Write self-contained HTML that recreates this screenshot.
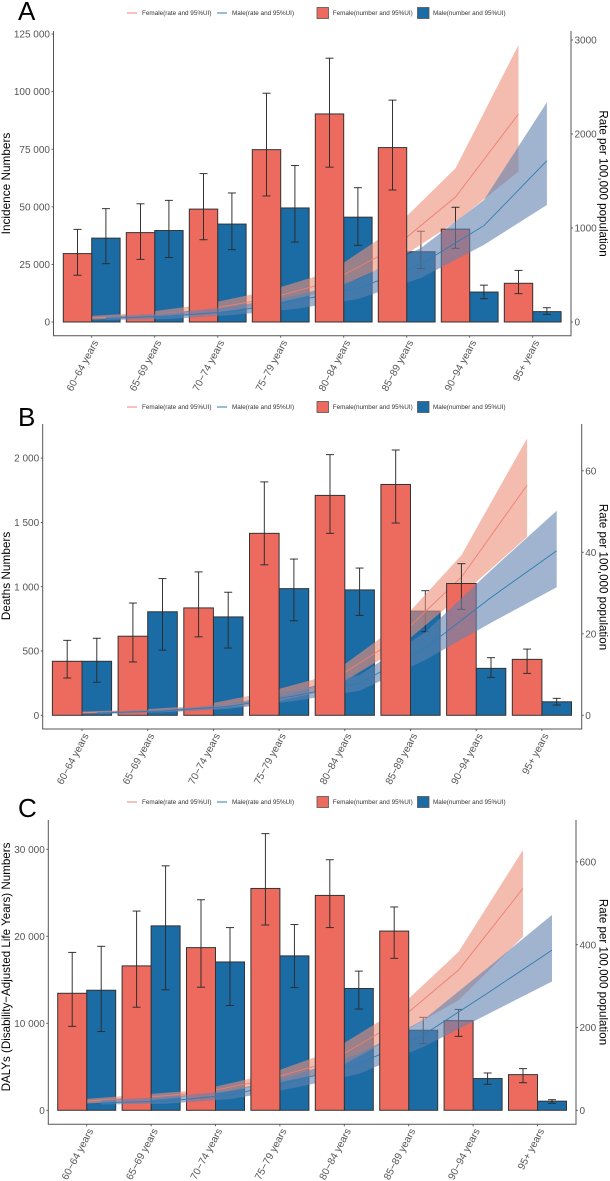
<!DOCTYPE html>
<html lang="en">
<head>
<meta charset="utf-8">
<title>Incidence, deaths and DALYs by age group and sex</title>
<style>
html,body{margin:0;padding:0;background:#fff;width:610px;height:1181px;overflow:hidden}
svg{display:block;filter:blur(0.3px);font-family:"Liberation Sans",Arial,sans-serif}
</style>
</head>
<body>
<svg id="figure" xmlns="http://www.w3.org/2000/svg" width="610" height="1181" viewBox="0 0 610 1181"></svg>
<script>
const categories = ["60−64 years","65−69 years","70−74 years","75−79 years","80−84 years","85−89 years","90−94 years","95+ years"];

/* Panel A: incidence */
const aLeftTicks = [0,25000,50000,75000,100000,125000];
const aRightTicks = [0,1000,2000,3000];
const aFemaleNumber = [29700,38800,49000,74800,90300,75700,40300,16800];
const aFemaleNumberLow = [20300,27200,35700,54700,67200,57300,32000,12300];
const aFemaleNumberHigh = [40200,51300,64400,99300,114500,96300,49800,22400];
const aMaleNumber = [36400,39700,42500,49500,45500,30500,13000,4500];
const aMaleNumberLow = [25300,28000,31400,34700,33300,23200,10100,3300];
const aMaleNumberHigh = [49200,52800,56000,67900,58300,39400,16000,6200];
const aFemaleRate = [37,64,128,245,425,777,1330,2213];
const aFemaleRateLow = [21,43,80,180,330,628,1064,1600];
const aFemaleRateHigh = [55,96,185,325,530,978,1635,2947];
const aMaleRate = [37,64,112,223,356,617,1024,1716];
const aMaleRateLow = [21,32,74,138,245,468,820,1245];
const aMaleRateHigh = [58,96,165,280,457,787,1298,2337];

/* Panel B: deaths */
const bLeftTicks = [0,500,1000,1500,2000];
const bRightTicks = [0,20,40,60];
const bFemaleNumber = [420,615,835,1415,1710,1795,1025,435];
const bFemaleNumberLow = [290,415,610,1170,1415,1495,824,326];
const bFemaleNumberHigh = [583,873,1115,1815,2027,2063,1179,515];
const bMaleNumber = [420,805,765,985,975,810,365,105];
const bMaleNumberLow = [257,507,523,735,777,650,295,80];
const bMaleNumberHigh = [599,1063,957,1215,1145,969,448,132];
const bFemaleRate = [0.56,0.93,1.55,3.75,8.2,18.5,33.9,56.5];
const bFemaleRateLow = [0.3,0.7,1.2,2.8,6.2,16,29.5,43.8];
const bFemaleRateHigh = [0.8,1.3,2.3,5.5,9.9,21.7,39.3,68];
const bMaleRate = [0.56,1.05,2.15,4.7,7.9,16.5,28.9,40.4];
const bMaleRateLow = [0.3,0.7,1.55,3.5,6,13.6,22.7,31.4];
const bMaleRateHigh = [0.8,1.4,2.7,6,9.9,20.4,35.6,50.2];

/* Panel C: DALYs */
const cLeftTicks = [0,10000,20000,30000];
const cRightTicks = [0,200,400,600];
const cFemaleNumber = [13450,16600,18700,25500,24700,20600,10300,4100];
const cFemaleNumberLow = [9650,11850,14150,21300,21000,17470,8500,3170];
const cFemaleNumberHigh = [18150,22900,24200,31800,28800,23370,11600,4790];
const cMaleNumber = [13800,21200,17050,17750,14000,9200,3650,1050];
const cMaleNumberLow = [9050,13850,12050,14100,11640,7660,2990,800];
const cMaleNumberHigh = [18850,28100,21000,21350,16000,10690,4290,1220];
const cFemaleRate = [20,30,42,73,117,208,339,536];
const cFemaleRateLow = [15,22,35,61,92,177,266,419];
const cFemaleRateHigh = [25,37,49,85,141,237,383,629];
const cMaleRate = [18,22,37,71,112,182,283,387];
const cMaleRateLow = [14,16,27,54,88,153,232,311];
const cMaleRateHigh = [25,32,47,85,136,218,344,472];

const NS = "http://www.w3.org/2000/svg";
const root = document.getElementById("figure");
const RED = "#ec6b5e", BLUE = "#1b6ca5", INK = "#2b2b2b", AXIS = "#555", TICK = "#555";

function node(parent, tag, attrs, text){
  const el = document.createElementNS(NS, tag);
  for (const k in attrs) el.setAttribute(k, attrs[k]);
  if (text !== undefined) el.textContent = text;
  parent.appendChild(el);
  return el;
}
function fmtThousands(v){
  return v >= 1000 ? String(v).replace(/\B(?=(\d{3})+$)/g, " ") : String(v);
}

function drawErrors(g, cx, yLow, yHigh){
  const stem = node(g, "line", {x1:cx, x2:cx, y1:yLow, y2:yHigh, stroke:INK, "stroke-width":0.95});
  
  
  const capL = node(g, "line", {x1:cx-4, x2:cx+4, y1:yLow, y2:yLow, stroke:INK, "stroke-width":0.95});
  
  
  const capH = node(g, "line", {x1:cx-4, x2:cx+4, y1:yHigh, y2:yHigh, stroke:INK, "stroke-width":0.95});
  
  
}

function drawBar(g, p, i, which, values, lows, highs){
  const cx = which === "female" ? p.x(i) - p.bw/2 : p.x(i) + p.bw/2;
  const top = p.yL(values[i]);
  const bar = node(g, "rect", {x:cx-p.bw/2, y:top, width:p.bw, height:p.yL(0)-top,
    fill: which === "female" ? RED : BLUE, stroke:"#333", "stroke-width":1});
  
  
  drawErrors(g, cx, p.yL(lows[i]), p.yL(highs[i]));
}

function drawRibbon(g, p, which, rate, low, high){
  const off = which === "female" ? -p.bw/2 : p.bw/2;
  const fill = which === "female" ? "#ed8f78" : "#6182b1";
  const lineCol = which === "female" ? "#ee7f72" : "#2f7cb3";
  const up = high.map((v,i)=> (p.x(i)+off).toFixed(1)+","+p.yR(v).toFixed(1));
  const dn = low.map((v,i)=> (p.x(i)+off).toFixed(1)+","+p.yR(v).toFixed(1)).reverse();
  const band = node(g, "polygon", {points:up.concat(dn).join(" "), fill:fill, "fill-opacity":0.6, stroke:"none"});
  
  
  const pts = rate.map((v,i)=> (p.x(i)+off).toFixed(1)+","+p.yR(v).toFixed(1)).join(" ");
  const line = node(g, "polyline", {points:pts, fill:"none", stroke:lineCol, "stroke-width":0.9});
  
  
}

function drawLegend(g, y){
  const l1 = node(g, "line", {x1:127, x2:137, y1:y, y2:y, stroke:"#ee8378", "stroke-width":1});
  
  
  const t1 = node(g, "text", {x:142, y:y+2.1, "font-size":6.35, fill:"#333"}, "Female(rate and 95%UI)");
  
  
  const l2 = node(g, "line", {x1:217, x2:227, y1:y, y2:y, stroke:"#2f7cb3", "stroke-width":1});
  
  
  const t2 = node(g, "text", {x:232, y:y+2.1, "font-size":6.35, fill:"#333"}, "Male(rate and 95%UI)");
  
  
  const s1 = node(g, "rect", {x:317, y:y-5.5, width:11.5, height:11, fill:RED, stroke:"#555", "stroke-width":0.8});
  
  
  const t3 = node(g, "text", {x:332.7, y:y+2.1, "font-size":6.35, fill:"#333"}, "Female(number and 95%UI)");
  
  
  const s2 = node(g, "rect", {x:417.5, y:y-5.5, width:11.5, height:11, fill:BLUE, stroke:"#555", "stroke-width":0.8});
  
  
  const t4 = node(g, "text", {x:433, y:y+2.1, "font-size":6.35, fill:"#333"}, "Male(number and 95%UI)");
  
  
}

function drawPanel(p, d){
  const g = node(root, "g", {});
  
  
  p.x = i => p.x0 + p.step * i;
  p.yL = v => p.y0 - v * p.leftScale;
  p.yR = v => p.y0 - v * p.rightScale;

  const letter = node(g, "text", {x:p.letterX, y:p.letterY, "font-size":26, fill:"#000"}, p.letter);
  
  
  drawLegend(g, p.legendY);

  /* layers: male bars, female ribbon, female bars under the male ribbon, male ribbon, then 75-89 female bars on top */
  const aboveRibbon = [3,4,5];
  d.maleNumber.forEach((v,i)=> drawBar(g, p, i, "male", d.maleNumber, d.maleLow, d.maleHigh));
  drawRibbon(g, p, "female", d.femaleRate, d.femaleRateLow, d.femaleRateHigh);
  d.femaleNumber.forEach((v,i)=> { if (!aboveRibbon.includes(i)) drawBar(g, p, i, "female", d.femaleNumber, d.femaleLow, d.femaleHigh); });
  drawRibbon(g, p, "male", d.maleRate, d.maleRateLow, d.maleRateHigh);
  aboveRibbon.forEach(i=> drawBar(g, p, i, "female", d.femaleNumber, d.femaleLow, d.femaleHigh));

  /* axes */
  const lAxis = node(g, "line", {x1:p.left, x2:p.left, y1:p.top, y2:p.bottom, stroke:AXIS, "stroke-width":1});
  
  
  const rAxis = node(g, "line", {x1:p.right, x2:p.right, y1:p.top, y2:p.bottom, stroke:AXIS, "stroke-width":1});
  
  
  const bAxis = node(g, "line", {x1:p.left-0.5, x2:p.right+0.5, y1:p.bottom, y2:p.bottom, stroke:AXIS, "stroke-width":1});
  
  

  d.leftTicks.forEach(v=>{
    const y = p.yL(v);
    const mark = node(g, "line", {x1:p.left-2, x2:p.left, y1:y, y2:y, stroke:AXIS, "stroke-width":0.9});
    
    
    const label = node(g, "text", {x:p.left-3.5, y:y+3.6, "font-size":10, fill:TICK, "text-anchor":"end"}, fmtThousands(v));
    
    
  });
  d.rightTicks.forEach(v=>{
    const y = p.yR(v);
    const mark = node(g, "line", {x1:p.right, x2:p.right+2, y1:y, y2:y, stroke:AXIS, "stroke-width":0.9});
    
    
    const label = node(g, "text", {x:p.right+3.5, y:y+3.6, "font-size":10, fill:TICK}, String(v));
    
    
  });
  categories.forEach((c,i)=>{
    const x = p.x(i);
    const mark = node(g, "line", {x1:x, x2:x, y1:p.bottom, y2:p.bottom+2, stroke:AXIS, "stroke-width":0.9});
    
    
    const ax = x + 7, ay = p.bottom + 6.5;
    const label = node(g, "text", {x:ax, y:ay, "font-size":10.2, fill:TICK, "text-anchor":"end",
      transform:"rotate(-62 "+ax+" "+ay+")"}, c);
    
    
  });

  const lt = node(g, "text", {x:p.leftTitleX, y:p.leftTitleY, "font-size":p.leftTitleSize, fill:"#000", "text-anchor":"middle",
    transform:"rotate(-90 "+p.leftTitleX+" "+p.leftTitleY+")"}, p.leftTitle);
  
  
  const rt = node(g, "text", {x:p.rightTitleX, y:p.rightTitleY, "font-size":11.6, fill:"#000", "text-anchor":"middle",
    transform:"rotate(90 "+p.rightTitleX+" "+p.rightTitleY+")"}, "Rate per 100,000 population");
  
  
}

drawPanel(
  {letter:"A", letterX:18, letterY:20, legendY:13, left:53.5, right:571, top:31, bottom:335.7,
   x0:91.7, step:63, bw:28.4, y0:322, leftScale:57.6/25000, rightScale:94/1000,
   leftTitle:"Incidence Numbers", leftTitleSize:11.8, leftTitleX:10, leftTitleY:183.5, rightTitleX:599.5, rightTitleY:183.5},
  {leftTicks:aLeftTicks, rightTicks:aRightTicks,
   femaleNumber:aFemaleNumber, femaleLow:aFemaleNumberLow, femaleHigh:aFemaleNumberHigh,
   maleNumber:aMaleNumber, maleLow:aMaleNumberLow, maleHigh:aMaleNumberHigh,
   femaleRate:aFemaleRate, femaleRateLow:aFemaleRateLow, femaleRateHigh:aFemaleRateHigh,
   maleRate:aMaleRate, maleRateLow:aMaleRateLow, maleRateHigh:aMaleRateHigh});

drawPanel(
  {letter:"B", letterX:18, letterY:426, legendY:407, left:42.7, right:581.7, top:424, bottom:729,
   x0:82, step:65.7, bw:29.6, y0:715.3, leftScale:64.3/500, rightScale:81.5/20,
   leftTitle:"Deaths Numbers", leftTitleSize:11.8, leftTitleX:10, leftTitleY:576, rightTitleX:599.5, rightTitleY:577},
  {leftTicks:bLeftTicks, rightTicks:bRightTicks,
   femaleNumber:bFemaleNumber, femaleLow:bFemaleNumberLow, femaleHigh:bFemaleNumberHigh,
   maleNumber:bMaleNumber, maleLow:bMaleNumberLow, maleHigh:bMaleNumberHigh,
   femaleRate:bFemaleRate, femaleRateLow:bFemaleRateLow, femaleRateHigh:bFemaleRateHigh,
   maleRate:bMaleRate, maleRateLow:bMaleRateLow, maleRateHigh:bMaleRateHigh});

drawPanel(
  {letter:"C", letterX:18, letterY:817, legendY:802, left:48.3, right:576, top:820, bottom:1124.3,
   x0:86.7, step:64.4, bw:29, y0:1110.3, leftScale:87/10000, rightScale:82.8/200,
   leftTitle:"DALYs (Disability−Adjusted Life Years) Numbers", leftTitleSize:11.6, leftTitleX:10, leftTitleY:967, rightTitleX:599.5, rightTitleY:972},
  {leftTicks:cLeftTicks, rightTicks:cRightTicks,
   femaleNumber:cFemaleNumber, femaleLow:cFemaleNumberLow, femaleHigh:cFemaleNumberHigh,
   maleNumber:cMaleNumber, maleLow:cMaleNumberLow, maleHigh:cMaleNumberHigh,
   femaleRate:cFemaleRate, femaleRateLow:cFemaleRateLow, femaleRateHigh:cFemaleRateHigh,
   maleRate:cMaleRate, maleRateLow:cMaleRateLow, maleRateHigh:cMaleRateHigh});
</script>
</body>
</html>
